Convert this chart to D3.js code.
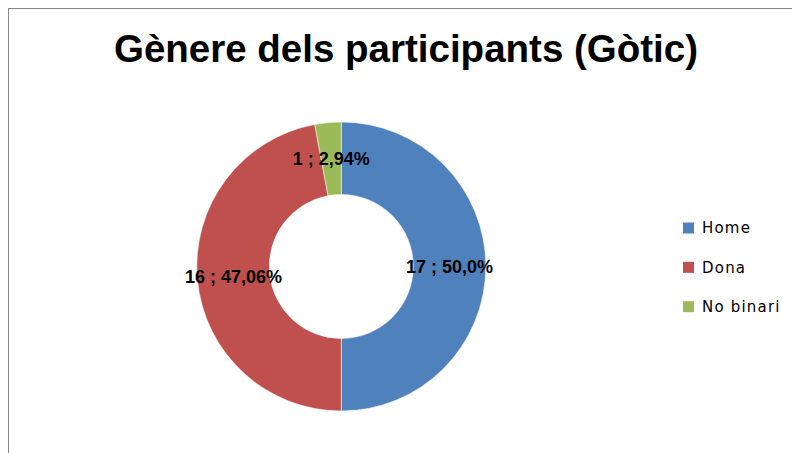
<!DOCTYPE html>
<html>
<head>
<meta charset="utf-8">
<script src="https://cdn.jsdelivr.net/npm/d3@7"></script>
<style>
  html, body { margin: 0; padding: 0; background: #fff; }
  svg { display: block; }
</style>
</head>
<body>
<svg id="chart" width="792" height="453"></svg>
<script>
const titleText = "Gènere dels participants (Gòtic)";
const categories = ["Home", "Dona", "No binari"];
const values = [17, 16, 1];
const percentLabels = ["50,0%", "47,06%", "2,94%"];
const colors = ["#4F81BD", "#C0504D", "#9BBB59"];

const svg = d3.select("#chart");
const W = 792, H = 453;

// outer frame
svg.append("rect")
  .attr("x", 8.5).attr("y", 8.5)
  .attr("width", 900).attr("height", 600)
  .attr("fill", "none")
  .attr("stroke", "#888")
  .attr("stroke-width", 1);

// title
svg.append("text")
  .attr("x", 406).attr("y", 61.5)
  .attr("text-anchor", "middle")
  .attr("font-family", "Liberation Sans, Arial, sans-serif")
  .attr("font-weight", "bold")
  .attr("font-size", 38.5)
  .attr("fill", "#000")
  .text(titleText);

const cx = 341.3, cy = 266.5, outerR = 144.5, innerR = 72;

const data = categories.map((c, i) => ({ cat: c, value: values[i], pct: percentLabels[i], color: colors[i] }));

const pie = d3.pie().sort(null).value(d => d.value);
const arc = d3.arc().innerRadius(innerR).outerRadius(outerR);
const arcs = pie(data);

const g = svg.append("g").attr("transform", `translate(${cx},${cy})`);

g.selectAll("path.slice")
  .data(arcs)
  .join("path")
  .attr("class", "slice")
  .attr("d", arc)
  .attr("fill", d => d.data.color)
  .attr("stroke", "#fff")
  .attr("stroke-width", 0.5);

g.selectAll("text.lbl")
  .data(arcs)
  .join("text")
  .attr("class", "lbl")
  .attr("transform", d => `translate(${arc.centroid(d)})`)
  .attr("text-anchor", "middle")
  .attr("dy", "0.36em")
  .attr("font-family", "Liberation Sans, Arial, sans-serif")
  .attr("font-weight", "bold")
  .attr("font-size", 18)
  .attr("fill", "#000")
  .text(d => `${d.data.value} ; ${d.data.pct}`);

// legend
const legendY = d3.scalePoint().domain(categories).range([228, 306.7]);
const legend = svg.append("g");
const items = legend.selectAll("g.item")
  .data(data)
  .join("g")
  .attr("class", "item")
  .attr("transform", d => `translate(683, ${legendY(d.cat)})`);

items.append("rect")
  .attr("x", 0).attr("y", -5.5)
  .attr("width", 11).attr("height", 11)
  .attr("fill", d => d.color);

items.append("text")
  .attr("x", 19).attr("y", 0)
  .attr("dy", "0.36em")
  .attr("font-family", "DejaVu Sans, Verdana, sans-serif")
  .attr("font-size", 15)
  .attr("letter-spacing", 1.2)
  .attr("fill", "#000")
  .text(d => d.cat);
</script>
</body>
</html>
